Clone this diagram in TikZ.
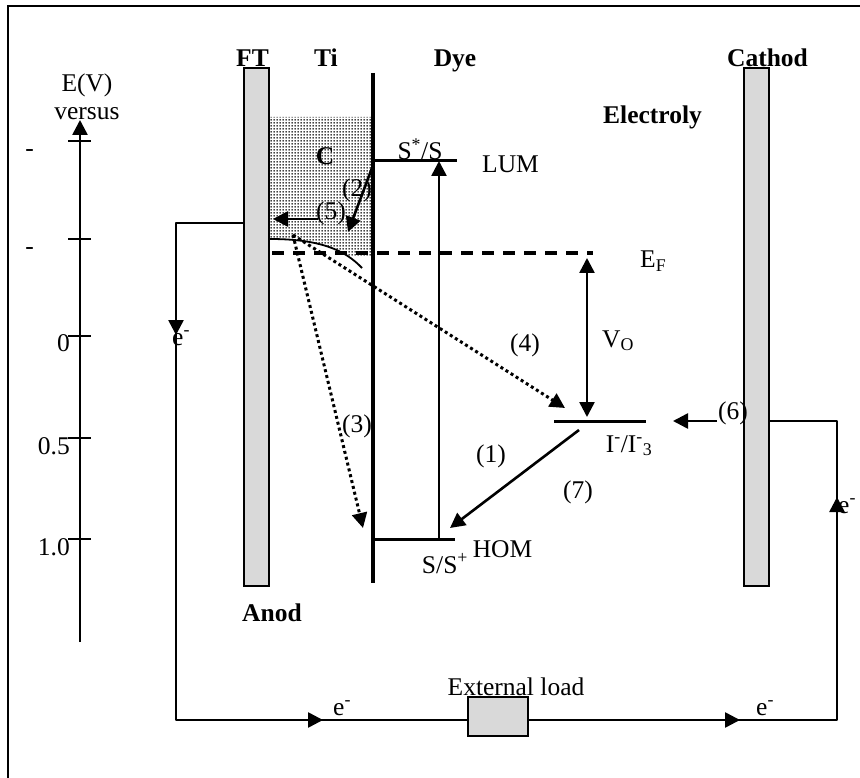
\documentclass[tikz,border=0pt]{standalone}
\usepackage{fontspec}
\setmainfont{Liberation Serif}
\usetikzlibrary{arrows.meta,positioning,patterns}
\pgfdeclarepatternformonly{densedots}{\pgfpointorigin}{\pgfqpoint{3pt}{3pt}}{\pgfqpoint{3pt}{3pt}}{%
  \pgfpathcircle{\pgfqpoint{1.5pt}{1.5pt}}{1.05pt}\pgfusepath{fill}}

\begin{document}
\begin{tikzpicture}[
    x=1pt, y=-1pt,
    txt/.style={font=\fontsize{25.5}{28}\selectfont, inner sep=0pt},
    btxt/.style={font=\fontsize{25.5}{28}\selectfont\bfseries, inner sep=0pt},
    elec/.style={draw, line width=1.6pt, fill=gray!30, minimum width=25pt, minimum height=518pt, inner sep=0pt},
    wire/.style={line width=2.6pt},
    lvl/.style={line width=3pt},
    arr/.style={-{Triangle[length=15pt,width=15pt]}},
    darr/.style={{Triangle[length=15pt,width=15pt]}-{Triangle[length=15pt,width=15pt]}},
    dotl/.style={line width=3pt, dash pattern=on 3pt off 3pt}
]
\useasboundingbox (0,0) rectangle (860,778);
% frame
\draw[line width=2pt] (8,778) -- (8,6) -- (860,6);

% energy scale
\coordinate (ax0) at (80,642);
\coordinate (ax1) at (80,120);
\draw[wire,arr] (ax0) -- (ax1);
\foreach \y/\t/\lx in {141/-/34, 239/-/34, 336/0/70, 438/0.5/70, 539/1.0/70} {
    \draw[wire] (68,\y) -- (91,\y);
    \node[txt, anchor=base east] (t\y) at (\lx,{\y+16}) {\t};
}
\node[txt, anchor=base] (ev) at (87,92) {E(V)};
\node[txt, anchor=base] (vs) at (87,120) {versus};

% porous layer
\begin{scope}
\clip (270,117) rectangle (372,257);
\fill[pattern=densedots] (270,117) -- (270,239) .. controls (320,239) and (345,250) .. (362,268) -- (372,268) -- (372,117) -- cycle;
\end{scope}
\coordinate (bbL) at (270,239);
\coordinate (bbR) at (362,268);
\draw[line width=1.8pt] (bbL) .. controls (320,239) and (345,250) .. (bbR);

% electrodes
\node[elec] (anode) at (256.5,327) {};
\node[elec] (cathode) at (756.5,327) {};
\node[btxt, anchor=base] (lft) at (252.5,67) {FT};
\node[btxt, anchor=base] (lti) at (326,67) {Ti};
\node[btxt, anchor=base] (ldye) at (455,67) {Dye};
\node[btxt, anchor=base] (lcat) at (767.5,67) {Cathod};
\node[btxt, anchor=base] (lele) at (652.5,124) {Electroly};
\node[btxt, anchor=base] (lan) at (272,621) {Anod};
\node[btxt, anchor=base] (lc) at (325,165) {C};

% interface and levels
\coordinate (tiT) at (373,73);
\coordinate (tiB) at (373,583);
\draw[line width=4pt] (tiT) -- (tiB);
\coordinate (lumL) at (373,161);
\coordinate (lumR) at (457,161);
\coordinate (homL) at (373,539);
\coordinate (homR) at (455,539);
\coordinate (redL) at (554,421);
\coordinate (redR) at (646,421);
\coordinate (efL) at (272,253);
\coordinate (efR) at (593,253);
\draw[lvl] (lumL) -- (lumR);
\draw[lvl] (homL) -- (homR);
\draw[lvl] (redL) -- (redR);
\draw[line width=3.5pt, dash pattern=on 12pt off 9pt] (efL) -- (efR);

\node[txt, anchor=base] (lss) at (420,160) {S\textsuperscript{*}/S};
\node[txt, anchor=base] (llum) at (510.5,173) {LUM};
\node[txt, anchor=base] (lsp) at (445,573) {S/S\textsuperscript{+}};
\node[txt, anchor=base] (lhom) at (502.5,557) {HOM};
\node[txt, anchor=base west] (lef) at (640,268) {E\textsubscript{F}};
\node[txt, anchor=base west] (lvo) at (602,347) {V\textsubscript{O}};
\node[txt, anchor=base] (lred) at (629,452) {I\textsuperscript{-}/I\textsuperscript{-}\textsubscript{3}};

% transfer steps
\coordinate (exB) at (439,539);
\coordinate (exT) at (439,161);
\coordinate (vT) at (587,258);
\coordinate (vB) at (587,417);
\coordinate (inj) at (293,235);
\coordinate (rec1) at (363,528);
\coordinate (rec2) at (565,408);
\coordinate (regS) at (579,430);
\coordinate (regE) at (450,528);
\coordinate (s2S) at (372,168);
\coordinate (s2E) at (348,232);
\coordinate (s5S) at (318,219);
\coordinate (s5E) at (273,219);
\coordinate (s6S) at (717,421);
\coordinate (s6E) at (673,421);
\draw[wire,arr] (exB) -- (exT);
\draw[wire,darr] (vT) -- (vB);
\draw[dotl,arr] (inj) -- (rec1);
\draw[dotl,arr] (inj) -- (rec2);
\draw[wire,arr] (regS) -- (regE);
\draw[wire,arr] (s2S) -- (s2E);
\draw[wire,arr] (s5S) -- (s5E);
\draw[wire,arr] (s6S) -- (s6E);
\foreach \n/\x/\y in {1/491/462, 3/357/432, 4/525/351, 5/331/220, 6/733/419, 7/578/498} {
    \node[txt, anchor=base] (n\n) at (\x,\y) {(\n)};
}
\node[txt, anchor=base west] (n2) at (342,197) {(2)};

% external circuit
\node[draw, line width=1.6pt, fill=gray!30, minimum width=60pt, minimum height=39pt, inner sep=0pt] (load) at (498,716.5) {};
\node[txt, anchor=base] (lload) at (516,695) {External load};
\coordinate (aw) at (244,223);
\coordinate (c1) at (176,223);
\coordinate (c2) at (176,720);
\coordinate (lw) at (468,720);
\coordinate (le) at (528,720);
\coordinate (c3) at (837,720);
\coordinate (c4) at (837,421);
\coordinate (cw) at (769,421);
\coordinate (e1) at (176,335);
\coordinate (e2) at (323,720);
\coordinate (e3) at (740,720);
\coordinate (e4) at (837,497);
\draw[wire, line join=round] (aw) -- (c1) -- (c2) -- (lw);
\draw[wire, line join=round] (le) -- (c3) -- (c4) -- (cw);
\draw[wire,arr] (c1) -- (e1);
\draw[wire,arr] (c2) -- (e2);
\draw[wire,arr] (le) -- (e3);
\draw[wire,arr] (c3) -- (e4);
\node[txt, anchor=base west] (ea) at (172,345) {e\textsuperscript{-}};
\node[txt, anchor=base west] (eb) at (333,715) {e\textsuperscript{-}};
\node[txt, anchor=base west] (ec) at (756,715) {e\textsuperscript{-}};
\node[txt, anchor=base west] (ed) at (838,513) {e\textsuperscript{-}};
\end{tikzpicture}
\end{document}
